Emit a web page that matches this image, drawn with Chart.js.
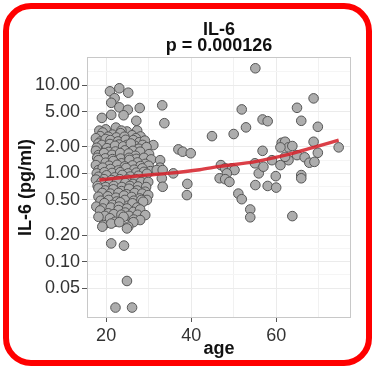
<!DOCTYPE html>
<html>
<head>
<meta charset="utf-8">
<script src="https://cdn.jsdelivr.net/npm/chart.js@4/dist/chart.umd.min.js"></script>
<style>
  html, body { margin: 0; padding: 0; background: #fff; }
  #wrap { position: relative; width: 375px; height: 368px; }
  #wrap canvas { position: absolute; left: 0; top: 0; }
  #frame {
    position: absolute; left: 3px; top: 3px; width: 369px; height: 363px;
    box-sizing: border-box; border: 6px solid #ff0000; border-radius: 28px;
  }
</style>
</head>
<body>
<div id="wrap">
  <canvas id="il6Chart" width="375" height="368"></canvas>
  <div id="frame"></div>
</div>
<script>
// values: [age, IL-6 pg/ml]
const youngHigh = [
  [20.9,8.5],[23.1,9.2],[25.2,8.2],[22.0,7.1],[21.2,6.3],[23.1,5.6],[25.1,5.25],[27.9,5.5],[33.2,5.9],[24.1,4.55],
  [21.2,4.6],[19.0,4.25],[27.1,3.94],[33.7,3.7],[19.9,3.15],[18.4,3.05],[24.9,2.98],[27.3,3.06],[28.1,2.62],[22.3,3.3],
  [19.2,2.9],[23.6,3.05],[18.6,2.64],[21.5,2.75],[23.4,2.85],[26.1,2.7],[17.6,2.5],[20.5,2.6],[22.4,2.55],[24.3,2.6],[27.0,2.5],
  [18.7,2.3],[18.2,2.18],[19.9,2.45],[21.0,2.38],[22.8,2.3],[24.6,2.4],[26.4,2.38],[27.8,2.25],[29.1,2.35],
  [19.0,2.1],[20.9,2.15],[23.0,2.12],[24.9,2.1],[26.8,2.05],[28.6,2.1],[31.1,2.09],
  [17.8,1.95],[20.2,1.93],[22.1,2.05],[24.0,2.02],[25.8,2.18],[27.7,1.9],[29.5,1.98],
  [17.6,1.8],[20.6,1.75],[22.2,1.77],[24.4,1.82],[26.3,1.8],[28.0,1.76],[30.1,1.65],
  [18.2,1.61],[19.5,1.7],[21.4,1.62],[23.3,1.7],[25.3,1.68],[26.9,1.58],
  [17.9,1.5],[19.8,1.48],[21.5,1.45],[23.4,1.47],[25.4,1.5],[27.1,1.46],[28.9,1.5],[30.6,1.44]
];
const youngMid = [
  [18.2,1.41],[19.9,1.32],[21.7,1.38],[23.6,1.3],[25.5,1.42],[27.4,1.33],[29.2,1.28],[32.7,1.41],
  [17.6,1.24],[20.7,1.22],[22.6,1.25],[24.4,1.2],[26.2,1.23],[28.1,1.21],[30.0,1.22],[32.7,1.16],
  [18.2,1.09],[19.2,1.16],[21.0,1.12],[22.9,1.08],[24.7,1.15],[26.6,1.1],[28.5,1.14],[30.4,1.06],[31.9,1.09],[33.3,1.09],
  [17.8,1.0],[19.6,1.03],[21.4,1.01],[23.3,1.03],[25.2,1.0],[27.1,1.02],[28.9,1.04],[35.8,1.0],
  [18.2,0.915],[20.1,0.95],[22.0,0.9],[23.8,0.96],[25.7,0.92],[27.6,0.94],[29.6,0.99],[33.1,0.88],
  [17.6,0.85],[19.5,0.86],[21.3,0.84],[23.2,0.86],[25.0,0.85],[26.9,0.86],[28.8,0.84],
  [18.9,0.8],[20.8,0.76],[22.6,0.82],[24.5,0.78],[26.3,0.76],[28.2,0.8],[29.9,0.8],[33.3,0.705],
  [18.0,0.72],[19.9,0.7],[21.8,0.72],[23.7,0.7],[25.6,0.72],[27.5,0.71],[29.4,0.7],
  [18.2,0.676],[19.8,0.64],[21.7,0.66],[23.6,0.63],[25.4,0.67],[27.3,0.64],[29.2,0.62]
];
const youngLow = [
  [19.1,0.6],[21.0,0.59],[22.9,0.6],[24.8,0.58],[26.7,0.6],[28.5,0.59],
  [18.2,0.544],[20.4,0.55],[22.3,0.53],[24.2,0.56],[26.0,0.54],[27.9,0.52],[29.9,0.567],[29.6,0.5],
  [18.7,0.49],[20.6,0.5],[22.5,0.48],[24.4,0.5],[26.5,0.49],[28.3,0.5],
  [17.7,0.42],[19.6,0.46],[21.5,0.44],[23.3,0.47],[25.2,0.43],[26.2,0.458],[28.7,0.477],
  [19.2,0.4],[21.1,0.41],[23.0,0.42],[24.9,0.4],[27.3,0.41],
  [18.6,0.38],[20.5,0.353],[22.9,0.384],[24.5,0.36],[26.4,0.366],[28.0,0.39],
  [19.7,0.33],[21.8,0.345],[23.6,0.34],[25.4,0.33],[27.4,0.34],[29.2,0.337],
  [18.2,0.322],[20.9,0.31],[22.1,0.283],[24.1,0.322],[26.5,0.3],[28.0,0.296],
  [19.4,0.26],[21.2,0.27],[23.1,0.28],[26.4,0.28],[25.2,0.249],[19.1,0.249],[24.9,0.238],
  [21.2,0.161],[24.2,0.152],[24.9,0.0604],[22.2,0.0302],[26.1,0.0302]
];
const older = [
  [37.0,1.87],[38.0,1.76],[39.9,1.69],[39.1,0.76],[39.0,0.567],
  [44.9,2.64],[50.0,2.79],[51.9,5.3],[52.9,3.32],[55.1,15.5],[56.8,4.08],[58.0,3.9],
  [47.0,1.24],[48.0,1.14],[49.6,1.14],[50.2,1.09],[48.4,1.0],[46.7,0.88],[48.0,0.86],[49.0,0.8],
  [51.1,0.59],[51.9,0.51],[53.9,0.39],[53.9,0.318],
  [55.1,0.737],[55.9,1.0],[56.8,1.8],[55.0,1.3],[57.0,1.19],[59.0,1.41],[61.0,1.24],[62.9,1.41],[59.9,0.93],[58.0,0.72],[60.0,0.69],
  [61.3,2.22],[62.1,2.28],[62.9,1.97],[63.8,2.04],[61.0,1.97],[68.8,2.28],[69.8,1.71],[74.7,1.97],
  [62.1,1.54],[64.9,1.61],[66.7,1.52],[67.8,1.32],[69.0,1.35],
  [65.9,0.957],[65.9,0.88],[63.8,0.328],
  [64.9,5.53],[68.8,7.07],[65.9,3.94],[69.8,3.37]
];

// fitted curve
const trendAge = [18.4, 25, 30, 34.4, 42, 46.8, 55.1, 62.9, 68.8, 74.7];
const trendIl6 = [0.84, 0.91, 0.96, 1.0, 1.1, 1.2, 1.36, 1.64, 1.97, 2.38];

const xTicks = [20, 30, 40, 50, 60, 70];
const xLabeled = [20, 40, 60];
const yTicks = [0.05, 0.1, 0.2, 0.5, 1, 2, 5, 10];
const yMinor = [0.0707, 0.141, 0.316, 0.707, 1.414, 3.16, 7.07, 14.1];

const titleLines = ['IL-6', 'p = 0.000126'];
const FONT = "'Liberation Sans', Arial, Helvetica, sans-serif";

const allPoints = [...youngHigh, ...youngMid, ...youngLow, ...older].map(p => ({ x: p[0], y: p[1] }));
const trendPoints = trendAge.map((a, i) => ({ x: a, y: trendIl6[i] }));

const isMajorY = v => yTicks.includes(v);

// panel border + title
const panelPlugin = {
  id: 'panel',
  afterDatasetsDraw(chart) {
    const { ctx, chartArea: a } = chart;
    ctx.save();
    ctx.strokeStyle = '#c8c8c8';
    ctx.lineWidth = 1;
    ctx.strokeRect(Math.round(a.left) + 0.5, Math.round(a.top) + 0.5,
      Math.round(a.right - a.left) - 1, Math.round(a.bottom - a.top) - 1);
    ctx.restore();
  },
  afterDraw(chart) {
    const { ctx, chartArea: a } = chart;
    const cx = (a.left + a.right) / 2;
    ctx.save();
    ctx.fillStyle = '#111';
    ctx.font = 'bold 18px ' + FONT;
    ctx.textAlign = 'center';
    ctx.textBaseline = 'alphabetic';
    ctx.fillText(titleLines[0], cx, 35);
    ctx.fillText(titleLines[1], cx, 51);
    ctx.restore();
  }
};

new Chart(document.getElementById('il6Chart').getContext('2d'), {
  type: 'scatter',
  data: {
    datasets: [
      {
        type: 'line',
        data: trendPoints,
        borderColor: 'rgba(214, 36, 46, 0.88)',
        borderWidth: 3.4,
        pointRadius: 0,
        cubicInterpolationMode: 'monotone',
        fill: false,
        order: 0
      },
      {
        data: allPoints,
        backgroundColor: '#adadad',
        borderColor: '#555555',
        borderWidth: 1,
        pointRadius: 4.8,
        order: 1
      }
    ]
  },
  options: {
    responsive: false,
    animation: false,
    events: [],
    layout: { padding: { left: 0, right: 24, top: 57, bottom: 0 } },
    plugins: { legend: { display: false }, tooltip: { enabled: false } },
    scales: {
      x: {
        type: 'linear',
        min: 15.5,
        max: 77.6,
        afterFit: s => { s.height = 50; },
        afterBuildTicks: s => { s.ticks = xTicks.map(v => ({ value: v })); },
        ticks: {
          autoSkip: false,
          maxRotation: 0,
          padding: 3,
          color: '#333',
          font: { family: FONT, size: 18 },
          callback: v => xLabeled.includes(v) ? String(v) : ''
        },
        grid: {
          color: c => (c.tick && xLabeled.includes(c.tick.value)) ? '#ebebeb' : '#f1f1f1',
          lineWidth: 1,
          tickLength: 4,
          tickColor: c => (c.tick && xLabeled.includes(c.tick.value)) ? '#555' : 'rgba(0,0,0,0)'
        },
        border: { display: false },
        title: {
          display: true,
          text: 'age',
          color: '#111',
          font: { family: FONT, size: 18, weight: 'bold', lineHeight: 1.2 },
          padding: { top: 0, bottom: 8.5 }
        }
      },
      y: {
        type: 'logarithmic',
        min: 0.023,
        max: 20.8,
        afterFit: s => { s.width = 87; },
        afterBuildTicks: s => {
          s.ticks = [...yTicks, ...yMinor].sort((a, b) => a - b).map(v => ({ value: v }));
        },
        ticks: {
          autoSkip: false,
          padding: 2,
          color: '#333',
          font: { family: FONT, size: 18 },
          callback: v => isMajorY(v) ? Number(v).toFixed(2) : ''
        },
        grid: {
          color: c => (c.tick && isMajorY(c.tick.value)) ? '#ebebeb' : '#f5f5f5',
          lineWidth: 1,
          tickLength: 5,
          tickColor: c => (c.tick && isMajorY(c.tick.value)) ? '#555' : 'rgba(0,0,0,0)'
        },
        border: { display: false },
        title: {
          display: true,
          text: 'IL-6 (pg/ml)',
          color: '#111',
          font: { family: FONT, size: 18, weight: 'bold', lineHeight: 1.2 },
          padding: { top: 15, bottom: 0 }
        }
      }
    }
  },
  plugins: [panelPlugin]
});
</script>
</body>
</html>
